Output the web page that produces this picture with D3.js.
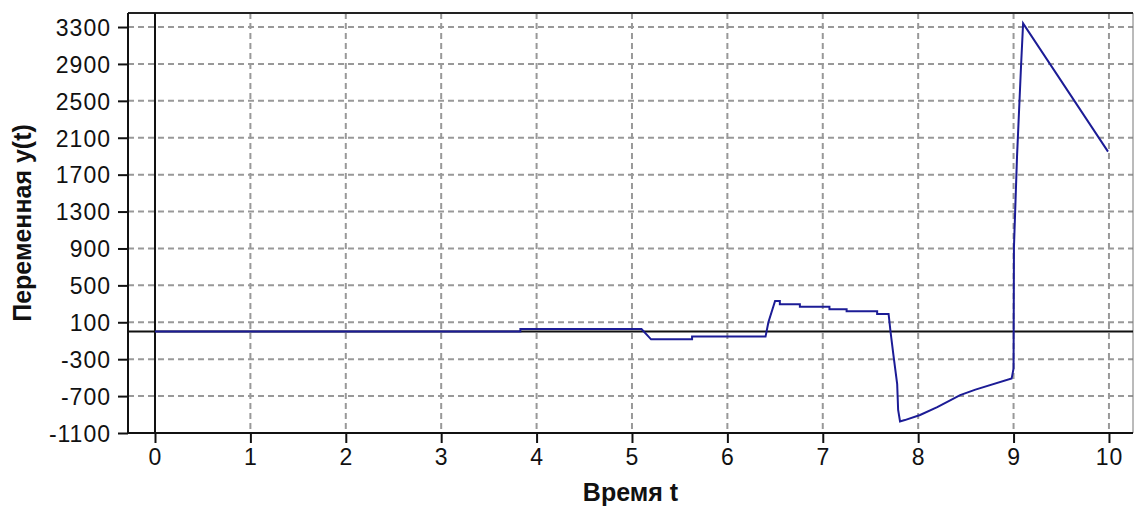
<!DOCTYPE html>
<html>
<head>
<meta charset="utf-8">
<script src="https://cdn.jsdelivr.net/npm/d3@7"></script>
<style>
    body { margin: 0; background: #fff; }
    svg text { font-family: "Liberation Sans", Arial, sans-serif; fill: #111; }
</style>
</head>
<body>
<div id="chart"></div>
<script>
// data
let times  = [0, 3.83, 3.83, 5.1, 5.2, 5.63, 5.63, 6.4, 6.43, 6.5, 6.55, 6.55, 6.76, 6.76, 7.07, 7.07,
              7.25, 7.25, 7.57, 7.57, 7.69, 7.71, 7.74, 7.78, 7.79, 7.81, 7.86, 8.02, 8.2, 8.44, 8.6, 8.98,
              9.0, 9.004, 9.036, 9.078, 9.1, 9.99];
let values = [0, 0, 27, 27, -85, -85, -55, -55, 100, 330, 330, 295, 295, 268, 268, 240,
              240, 220, 220, 190, 190, 0, -250, -570, -850, -975, -960, -905, -820, -690, -630, -510,
              -400, 910, 1890, 2870, 3340, 1950];
let xTicks = [0, 1, 2, 3, 4, 5, 6, 7, 8, 9, 10];
let yTicks = [-1100, -700, -300, 100, 500, 900, 1300, 1700, 2100, 2500, 2900, 3300];

let width = 1135, height = 506;
let margin = {top: 13, right: 2, bottom: 73, left: 128};

let svg = d3.select("#chart").append("svg")
    .attr("width", width)
    .attr("height", height);

let x = d3.scaleLinear()
    .domain([-0.283, 10.252])
    .range([margin.left, width - margin.right]);

let y = d3.scaleLinear()
    .domain([-1100, 3452])
    .range([height - margin.bottom, margin.top]);

// grid
svg.append("g").selectAll("line")
    .data(xTicks.filter(d => d !== 0))
    .enter().append("line")
    .attr("x1", d => x(d)).attr("x2", d => x(d))
    .attr("y1", margin.top).attr("y2", height - margin.bottom)
    .attr("stroke", "#999").attr("stroke-width", 2)
    .attr("stroke-dasharray", "6,4");

svg.append("g").selectAll("line")
    .data(yTicks.filter(d => d !== -1100))
    .enter().append("line")
    .attr("x1", margin.left).attr("x2", width - margin.right)
    .attr("y1", d => y(d)).attr("y2", d => y(d))
    .attr("stroke", "#999").attr("stroke-width", 2)
    .attr("stroke-dasharray", "6,4");

// frame: right edge thin, top dark
svg.append("line")
    .attr("x1", width - margin.right).attr("x2", width - margin.right)
    .attr("y1", margin.top).attr("y2", height - margin.bottom)
    .attr("stroke", "#777").attr("stroke-width", 1);
svg.append("line")
    .attr("x1", margin.left).attr("x2", width - margin.right)
    .attr("y1", margin.top).attr("y2", margin.top)
    .attr("stroke", "#222").attr("stroke-width", 2);

// zero lines
svg.append("line")
    .attr("x1", margin.left).attr("x2", width - margin.right)
    .attr("y1", y(0)).attr("y2", y(0))
    .attr("stroke", "#111").attr("stroke-width", 2);
svg.append("line")
    .attr("x1", x(0)).attr("x2", x(0))
    .attr("y1", margin.top).attr("y2", height - margin.bottom)
    .attr("stroke", "#111").attr("stroke-width", 2);

// axes
let xAxis = d3.axisBottom(x).tickValues(xTicks).tickSize(10).tickPadding(6).tickFormat(d => String(d));
let yAxis = d3.axisLeft(y).tickValues(yTicks).tickSize(10).tickPadding(7).tickFormat(d => String(d));

let gx = svg.append("g")
    .attr("transform", `translate(0, ${height - margin.bottom})`)
    .call(xAxis);
let gy = svg.append("g")
    .attr("transform", `translate(${margin.left}, 0)`)
    .call(yAxis);

[gx, gy].forEach(g => {
    g.select(".domain").attr("stroke", "#111").attr("stroke-width", 2);
    g.selectAll(".tick line").attr("stroke", "#111").attr("stroke-width", 2);
    g.selectAll(".tick text")
        .style("font-size", "23px")
        .style("letter-spacing", "1px")
        .attr("fill", "#111");
});
gx.select(".domain").attr("d", `M${margin.left},0H${width - margin.right}`);
gy.select(".domain").attr("d", `M0,${margin.top}V${height - margin.bottom}`);
gy.selectAll(".tick text").attr("dy", "0.36em");

// data line
let line = d3.line()
    .x((d, i) => x(times[i]))
    .y(d => y(d));

svg.append("path")
    .datum(values)
    .attr("fill", "none")
    .attr("stroke", "#1c1c96")
    .attr("stroke-width", 2)
    .attr("d", line);

// axis titles
svg.append("text")
    .attr("x", (margin.left + width - margin.right) / 2)
    .attr("y", 501)
    .attr("text-anchor", "middle")
    .style("font-size", "25px")
    .style("font-weight", "bold")
    .text("Время t");

svg.append("text")
    .attr("transform", `translate(31, ${(margin.top + height - margin.bottom) / 2}) rotate(-90)`)
    .attr("text-anchor", "middle")
    .style("font-size", "25px")
    .style("font-weight", "bold")
    .text("Переменная y(t)");
</script>
</body>
</html>
